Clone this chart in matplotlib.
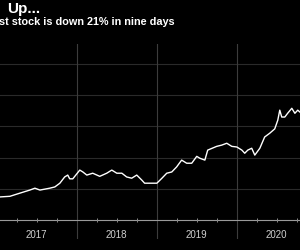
import numpy as np
import pandas as pd
import matplotlib
matplotlib.use('Agg')
import matplotlib.pyplot as plt
import matplotlib.dates as mdates

# values (arbitrary units, gridlines every 50)
dates = ['2017-01-15', '2017-03-01', '2017-04-15', '2017-05-31', '2017-06-23', '2017-07-16',
         '2017-08-30', '2017-09-22', '2017-10-15', '2017-11-06', '2017-11-20', '2017-11-29',
         '2017-12-13', '2018-01-14', '2018-01-28', '2018-02-15', '2018-03-14', '2018-04-15',
         '2018-05-17', '2018-06-09', '2018-07-02', '2018-07-25', '2018-08-16', '2018-09-08',
         '2018-10-01', '2018-10-24', '2018-11-06', '2018-11-29', '2019-01-01', '2019-01-24',
         '2019-02-15', '2019-03-10', '2019-04-01', '2019-04-24', '2019-05-17', '2019-06-09',
         '2019-07-02', '2019-07-16', '2019-08-08', '2019-08-21', '2019-10-01', '2019-10-24',
         '2019-11-16', '2019-12-09', '2020-01-01', '2020-01-24', '2020-02-06', '2020-02-20',
         '2020-03-09', '2020-03-23', '2020-04-15', '2020-05-07', '2020-05-30', '2020-06-22',
         '2020-07-06', '2020-07-15', '2020-07-24', '2020-08-07', '2020-08-20', '2020-09-08',
         '2020-09-22', '2020-10-05', '2020-10-15']
price = [37, 38, 43, 48, 51, 48,
         51, 53, 59, 69, 72, 66,
         66, 80, 77, 72, 75, 70,
         75, 80, 75, 75, 69, 67,
         72, 64, 59, 59, 59, 67,
         75, 77, 85, 96, 91, 91,
         102, 99, 96, 112, 118, 120,
         123, 118, 117, 112, 107, 112,
         115, 104, 115, 133, 139, 146,
         160, 176, 165, 165, 171, 179,
         171, 176, 173]
year_labels = ['2017', '2018', '2019', '2020']
grid_levels = [0, 50, 100, 150, 200, 250]

x = pd.to_datetime(dates)

fig = plt.figure(figsize=(3, 2.5), dpi=100, facecolor='black')
ax = fig.add_axes([0, 0.044, 1, 0.78])
ax.set_facecolor('black')

start = mdates.date2num(pd.Timestamp('2017-01-01'))
px_per_day = 80 / 365.25
ax.set_xlim(start + 3 / px_per_day, start + 303 / px_per_day)
ax.set_ylim(-30.4, 282)

for lvl in grid_levels[1:]:
    ax.axhline(lvl, color='#2a2a2a', lw=0.8, zorder=1)
ax.axhline(0, color='#9a9a9a', lw=0.8, zorder=2)

for yr in range(2018, 2021):
    ax.axvline(pd.Timestamp(f'{yr}-01-01'), color='#3c3c3c', lw=0.8, zorder=1)

quarters = pd.date_range('2017-04-01', '2020-12-31', freq='QS')
quarters = [q for q in quarters if q.month != 1]
ax.plot(quarters, [0] * len(quarters), ls='none', marker='|', ms=3, mew=0.7,
        color='#8a8a8a', zorder=3)

ax.plot(x, price, color='white', lw=1.0, zorder=4)

for lab in year_labels:
    ax.text(pd.Timestamp(f'{lab}-07-01'), -24, lab, color='#d0d0d0', fontsize=7,
            ha='center', va='center', family='Liberation Sans')

for s in ax.spines.values():
    s.set_visible(False)
ax.set_xticks([])
ax.set_yticks([])

fig.text(7 / 300, 1 - 9.5 / 250, 'Up...', color='white', fontsize=11, fontweight='bold',
         ha='left', va='center', family='Liberation Sans')
fig.text(-1 / 300, 1 - 22 / 250, 'st stock is down 21% in nine days', color='white',
         fontsize=7.8, fontweight='bold', ha='left', va='center', family='Liberation Sans')

fig.savefig('out.png', dpi=100, facecolor='black')
